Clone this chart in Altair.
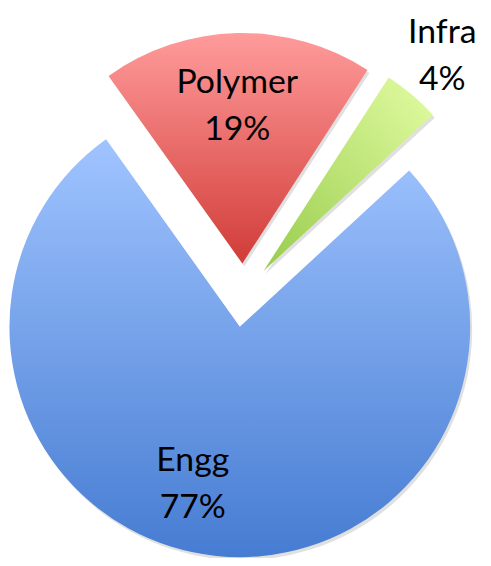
import altair as alt
import pandas as pd

# ---- data ----
categories = ["Engg", "Polymer", "Infra"]
values = [77, 19, 4]
order = [0, 1, 2]

df = pd.DataFrame({"category": categories, "value": values, "order": order})

# ---- layout (pixels / radians), page coordinates ----
S = 0.993                     # overall fit factor
CX = -1.5 + S * 246.3         # pie centre
CY = -3.9 + S * 301.2
R = S * 232                   # pie radius
EXPLODE = S * 32              # explosion distance of each slice
START = 0.8255                # angle at which the first slice starts (rad)
FONT = 34 * S
LH = 47 * S

PAD = 8
W, H = 483, 558               # svg = W-PAD by H-PAD

base = (
    alt.Chart(df)
    .transform_joinaggregate(total="sum(value)")
    .transform_window(cum="sum(value)", sort=[alt.SortField("order")], frame=[None, 0])
    .transform_calculate(
        a0=f"{START} + 2*PI*(datum.cum - datum.value)/datum.total",
        a1=f"{START} + 2*PI*datum.cum/datum.total",
    )
    .transform_calculate(mid="(datum.a0 + datum.a1)/2")
    .transform_calculate(
        cx=f"{CX} + {EXPLODE}*sin(datum.mid)",
        cy=f"{CY} - {EXPLODE}*cos(datum.mid)",
    )
)

def grad(c_top, c_bot, x1=0, y1=0, x2=0, y2=1):
    return alt.Gradient(
        gradient="linear",
        stops=[alt.GradientStop(color=c_top, offset=0), alt.GradientStop(color=c_bot, offset=1)],
        x1=x1, y1=y1, x2=x2, y2=y2,
    )

fills = {
    "Engg": grad("#a0c4ff", "#467cd2"),
    "Polymer": grad("#ff9b9b", "#d13c38"),
    "Infra": grad("#e2fca2", "#98cc4c", x1=1, y1=0, x2=0, y2=1),
}

enc = dict(
    x=alt.X("cx:Q", scale=None, axis=None),
    y=alt.Y("cy:Q", scale=None, axis=None),
    theta=alt.Theta("a0:Q", scale=None, stack=None),
    theta2="a1:Q",
)

shadow = base.transform_calculate(sx="datum.cx + 2", sy="datum.cy + 3").mark_arc(
    outerRadius=R, fill="#000000", opacity=0.12
).encode(
    x=alt.X("sx:Q", scale=None, axis=None),
    y=alt.Y("sy:Q", scale=None, axis=None),
    theta=alt.Theta("a0:Q", scale=None, stack=None),
    theta2="a1:Q",
)

arcs = [
    base.transform_filter(alt.datum.category == c).mark_arc(outerRadius=R, fill=fills[c]).encode(**enc)
    for c in categories
]

labels = (
    base.transform_calculate(
        label="datum.category + '\\n' + datum.value + '%'",
        lr="datum.category == 'Infra' ? 1.178 : (datum.category == 'Engg' ? 0.755 : 0.637)",
        la="datum.mid + (datum.category == 'Engg' ? 0.171 : (datum.category == 'Infra' ? 0.0192 : -0.012))",
    )
    .transform_calculate(
        lx=f"datum.cx + {R}*datum.lr*sin(datum.la)",
        ly=f"datum.cy - {R}*datum.lr*cos(datum.la) - {LH}/2",
    )
    .mark_text(
        lineBreak="\n", font="Lato", fontSize=FONT, lineHeight=LH,
        align="center", baseline="alphabetic", color="#000000",
    )
    .encode(
        x=alt.X("lx:Q", scale=None, axis=None),
        y=alt.Y("ly:Q", scale=None, axis=None),
        text="label:N",
    )
)

chart = (
    alt.layer(shadow, *arcs, labels)
    .properties(
        width=W, height=H,
        autosize=alt.AutoSizeParams(type="none"),
        padding={"left": -PAD, "top": -PAD, "right": 0, "bottom": 0},
    )
    .configure_view(stroke=None)
)

chart.save("out.html", embed_options={"renderer": "svg", "actions": False})
